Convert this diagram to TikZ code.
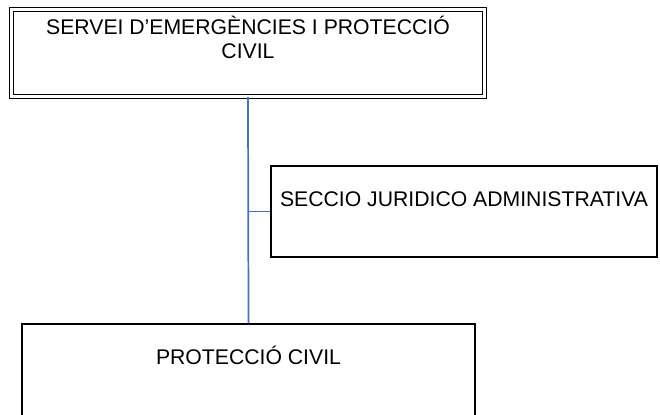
\documentclass[tikz,border=0pt]{standalone}
\usepackage{fontspec}
\setmainfont{Liberation Sans}
\usetikzlibrary{positioning, calc}
\definecolor{linkblue}{RGB}{68, 114, 196}
\tikzset{
  orgbox/.style={draw, rectangle, line width=1.4pt, inner sep=0pt},
  orgtext/.style={font=\fontsize{15.9}{17.6}\selectfont, align=center, inner sep=0pt},
  orglink/.style={linkblue, line width=1.3pt}
}
\begin{document}
\begin{tikzpicture}[x=0.75pt, y=-0.75pt]
  \useasboundingbox (0,0) rectangle (660,414);

  % Servei (double border)
  \node[orgbox, double, line width=1pt, double distance=1.8pt, minimum width=354.75pt, minimum height=65.25pt] (servei) at (248, 53) {};
  \node[orgtext, anchor=base] (serveitext) at (248, 58) {SERVEI D’EMERGÈNCIES I PROTECCIÓ\\CIVIL};

  % Seccio juridico administrativa
  \node[orgbox, minimum width=289.5pt, minimum height=68.25pt] (juridica) at (464, 211.5) {};
  \node[orgtext, anchor=base] (juridicatext) at (464, 206) {SECCIO JURIDICO ADMINISTRATIVA};

  % Proteccio civil
  \node[orgbox, minimum width=339.75pt, minimum height=79.5pt] (proteccio) at (248.5, 377) {};
  \node[orgtext, anchor=base] (protecciotext) at (248.5, 364) {PROTECCIÓ CIVIL};

  % Connectors
  \draw[orglink] (servei.south) -- (proteccio.north);
  \draw[orglink] (servei.south |- juridica.west) -- (juridica.west);
\end{tikzpicture}
\end{document}
